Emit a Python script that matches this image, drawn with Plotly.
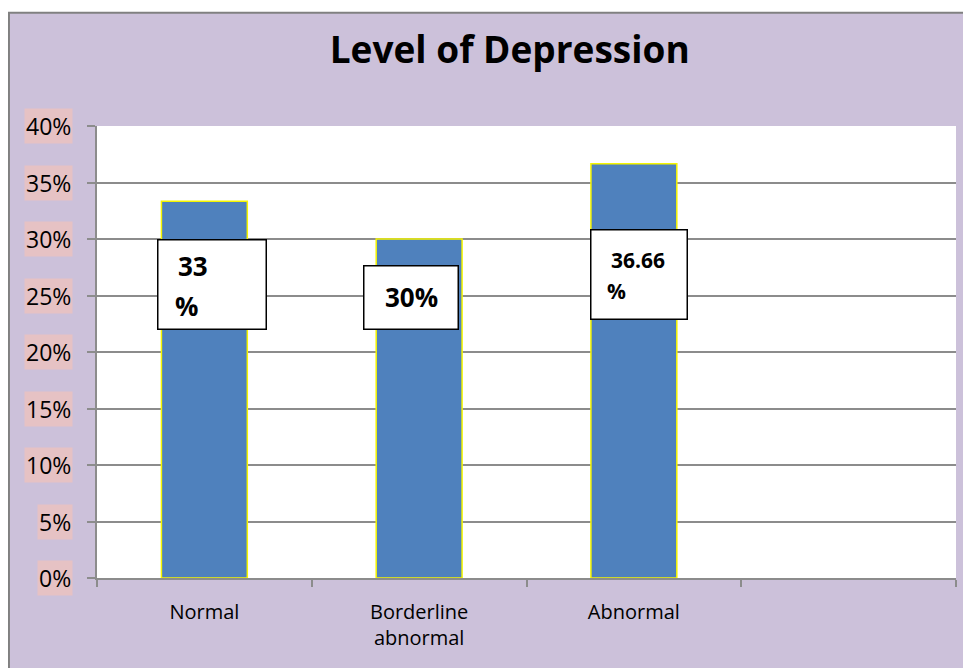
import plotly.graph_objects as go

categories = ["Normal", "Borderline<br>abnormal", "Abnormal"]
values = [33.33, 30.0, 36.66]
label_main = ["33", "30%", "36.66"]
label_sub = ["%", "", "%"]
y_ticks = [0, 5, 10, 15, 20, 25, 30, 35, 40]
y_tick_text = ["0%", "5%", "10%", "15%", "20%", "25%", "30%", "35%", "40%"]

FONT = "Open Sans"
x_idx = list(range(len(categories)))

fig = go.Figure()
fig.add_trace(go.Bar(
    x=x_idx, y=values, width=0.4,
    marker=dict(color="#4f81bd", line=dict(color="#f5f500", width=1.5)),
    hoverinfo="skip",
))

annotations = []
for v, t in zip(y_ticks, y_tick_text):
    annotations.append(dict(
        x=0, xref="paper", y=v, yref="y", text=t, showarrow=False,
        xanchor="right", xshift=-24, font=dict(family=FONT, size=23, color="#000"),
        bgcolor="#e6c2c4", borderpad=1,
    ))

box_specs = [
    dict(w=107, h=88, dx=8, dy=-83),
    dict(w=93, h=62, dx=-8, dy=-58),
    dict(w=95, h=88, dx=5, dy=-111),
]
text_specs = [
    [dict(dx=-11, dy=-65, size=26), dict(dx=-18, dy=-105, size=26)],
    [dict(dx=-8, dy=-58, size=26), None],
    [dict(dx=4, dy=-96, size=21), dict(dx=-17, dy=-127, size=21)],
]
for i, v in enumerate(values):
    b = box_specs[i]
    annotations.append(dict(
        x=i, y=v, xref="x", yref="y", text=" ", showarrow=False,
        width=b["w"], height=b["h"], bgcolor="#ffffff",
        bordercolor="#000000", borderwidth=1.5, borderpad=0,
        xshift=b["dx"], yshift=b["dy"],
    ))
    for txt, sp in zip([label_main[i], label_sub[i]], text_specs[i]):
        if sp is None or not txt:
            continue
        annotations.append(dict(
            x=i, y=v, xref="x", yref="y", text="<b>%s</b>" % txt, showarrow=False,
            font=dict(family=FONT, size=sp["size"], color="#000"),
            xshift=sp["dx"], yshift=sp["dy"],
        ))

fig.update_layout(
    width=963, height=660,
    margin=dict(l=89, r=15, t=118, b=90),
    paper_bgcolor="#ccc1da",
    plot_bgcolor="#ffffff",
    showlegend=False,
    title=dict(text="<b>Level of Depression</b>", x=0.521, xanchor="center",
               y=0.936, yanchor="middle",
               font=dict(family=FONT, size=37, color="#000")),
    annotations=annotations,
    xaxis=dict(
        range=[-0.5, 3.5], tickvals=x_idx, ticktext=categories,
        ticks="", showgrid=False, zeroline=False,
        showline=True, linecolor="#8c8c8c", linewidth=2,
        tickfont=dict(family=FONT, size=20, color="#000"),
        ticklabelstandoff=15,
        minor=dict(tickvals=[-0.5, 0.5, 1.5, 2.5, 3.5], ticks="outside",
                   ticklen=7, tickcolor="#8c8c8c", tickwidth=2, showgrid=False),
        fixedrange=True,
    ),
    yaxis=dict(
        range=[0, 40], tickvals=y_ticks, ticktext=["" for _ in y_ticks],
        ticks="outside", ticklen=8, tickcolor="#8c8c8c", tickwidth=1.5,
        showgrid=True, gridcolor="#8c8c8c", gridwidth=1.5,
        showline=True, linecolor="#8c8c8c", linewidth=2,
        zeroline=False, fixedrange=True,
    ),
    shapes=[
        dict(type="rect", xref="paper", yref="paper", x0=-0.11, x1=1.03,
             y0=1.2515, y1=1.27, line=dict(width=0), fillcolor="#ffffff", layer="above"),
        dict(type="line", xref="paper", yref="paper", x0=-0.1025, x1=-0.1025,
             y0=-0.2, y1=1.2515, line=dict(color="#808080", width=2)),
        dict(type="line", xref="paper", yref="paper", x0=-0.1036, x1=1.02,
             y0=1.2505, y1=1.2505, line=dict(color="#808080", width=2)),
    ],
)

fig.write_html("out.html")
